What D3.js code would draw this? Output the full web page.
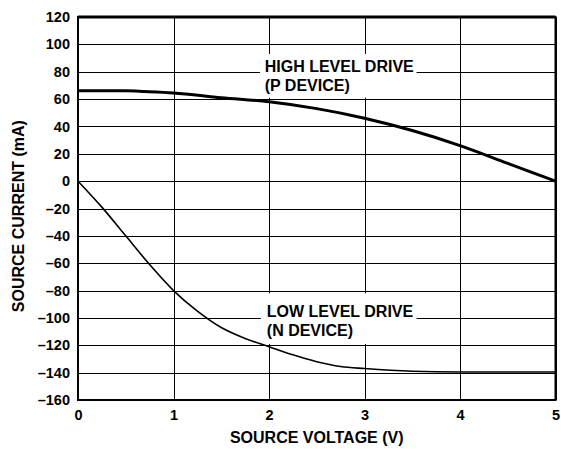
<!DOCTYPE html>
<html>
<head>
<meta charset="utf-8">
<script src="https://cdn.jsdelivr.net/npm/d3@7"></script>
<style>
  body { margin: 0; background: #fff; }
  text { font-family: "Liberation Sans", Arial, sans-serif; font-weight: bold; fill: #000; }
</style>
</head>
<body>
<div id="chart"></div>
<script>
//
// Source current vs source voltage
//

// Data
let xTicks = [0, 1, 2, 3, 4, 5];
let yTicks = [120, 100, 80, 60, 40, 20, 0, -20, -40, -60, -80, -100, -120, -140, -160];

let highV = [0, 0.5, 0.7, 1, 1.5, 2, 2.5, 3, 3.5, 4, 4.5, 5];
let highI = [66, 66, 65.5, 64.5, 61, 58, 53, 46, 37, 26, 13, 0];

let lowV = [0, 0.25, 0.5, 0.75, 1, 1.25, 1.5, 1.75, 2, 2.25, 2.5, 2.75, 3, 3.5, 4, 5];
let lowI = [0, -19, -40, -61, -80, -95, -107, -115, -121, -127, -132, -135.5, -137, -139, -139.5, -139.5];

let highLabel = ['HIGH LEVEL DRIVE', '(P DEVICE)'];
let lowLabel = ['LOW LEVEL DRIVE', '(N DEVICE)'];

let width = 561;
let height = 449;
let margin = { top: 17, right: 5, bottom: 49, left: 78 };

let svg = d3.select('#chart')
    .append('svg')
    .attr('width', width)
    .attr('height', height);

let x = d3.scaleLinear()
    .domain([0, 5])
    .range([margin.left, width - margin.right - 0.5]);

let y = d3.scaleLinear()
    .domain([-160, 120])
    .range([height - margin.bottom, margin.top]);

// Grid
let grid = svg.append('g').attr('stroke', '#000').attr('stroke-width', 1);

grid.selectAll('.hg')
    .data(yTicks)
    .enter()
    .append('line')
    .attr('x1', x(0))
    .attr('x2', x(5))
    .attr('y1', function(d) { return Math.round(y(d)) + 0.5; })
    .attr('y2', function(d) { return Math.round(y(d)) + 0.5; });

grid.selectAll('.vg')
    .data(xTicks)
    .enter()
    .append('line')
    .attr('x1', function(d) { return Math.round(x(d)) + 0.5; })
    .attr('x2', function(d) { return Math.round(x(d)) + 0.5; })
    .attr('y1', y(120))
    .attr('y2', y(-160));

// Label boxes hide the grid behind the text
function drawLabel(lines, vx, vy, box) {
    svg.append('rect')
        .attr('x', x(box[0]))
        .attr('y', y(box[1]))
        .attr('width', x(box[2]) - x(box[0]))
        .attr('height', y(box[3]) - y(box[1]))
        .attr('fill', '#fff');
    let t = svg.append('text')
        .attr('x', x(vx))
        .attr('y', y(vy))
        .style('font-size', '16px');
    lines.forEach(function(l, i) {
        t.append('tspan')
            .attr('x', x(vx))
            .attr('dy', i === 0 ? 0 : 18.5)
            .text(l);
    });
}

drawLabel(highLabel, 1.955, 79.7, [1.905, 93, 3.545, 61]);
drawLabel(lowLabel, 1.977, -99.4, [1.915, -82, 3.545, -119]);

// Curves
let line = d3.line()
    .x(function(d) { return x(d[0]); })
    .y(function(d) { return y(d[1]); })
    .curve(d3.curveMonotoneX);

svg.append('path')
    .datum(highV.map(function(v, i) { return [v, highI[i]]; }))
    .attr('d', line)
    .attr('fill', 'none')
    .attr('stroke', '#000')
    .attr('stroke-width', 3);

svg.append('path')
    .datum(lowV.map(function(v, i) { return [v, lowI[i]]; }))
    .attr('d', line)
    .attr('fill', 'none')
    .attr('stroke', '#000')
    .attr('stroke-width', 1.6);

// Frame
svg.append('rect')
    .attr('x', x(0))
    .attr('y', y(120))
    .attr('width', x(5) - x(0))
    .attr('height', y(-160) - y(120))
    .attr('fill', 'none')
    .attr('stroke', '#000')
    .attr('stroke-width', 2);

svg.append('line')
    .attr('x1', x(0))
    .attr('x2', x(5))
    .attr('y1', y(120))
    .attr('y2', y(120))
    .attr('stroke', '#000')
    .attr('stroke-width', 3);

// Axes (labels only, no tick marks)
let xAxis = d3.axisBottom(x)
    .tickValues(xTicks)
    .tickSize(0)
    .tickPadding(10)
    .tickFormat(d3.format('d'));

svg.append('g')
    .attr('transform', 'translate(0,' + y(-160) + ')')
    .call(xAxis)
    .call(function(g) { g.select('.domain').remove(); })
    .selectAll('text')
    .style('font-size', '14.5px')
    .style('font-family', '"Liberation Sans", Arial, sans-serif');

let yAxis = d3.axisLeft(y)
    .tickValues(yTicks)
    .tickSize(0)
    .tickPadding(8)
    .tickFormat(function(d) { return d < 0 ? '\u2013' + Math.abs(d) : d; });

svg.append('g')
    .attr('transform', 'translate(' + x(0) + ',0)')
    .call(yAxis)
    .call(function(g) { g.select('.domain').remove(); })
    .selectAll('text')
    .style('font-size', '14.5px')
    .style('font-family', '"Liberation Sans", Arial, sans-serif');

// Axis titles
svg.append('text')
    .attr('x', (x(0) + x(5)) / 2)
    .attr('y', 443)
    .attr('text-anchor', 'middle')
    .style('font-size', '16px')
    .text('SOURCE VOLTAGE (V)');

svg.append('text')
    .attr('transform', 'translate(24,' + (y(-25.6)) + ') rotate(-90)')
    .attr('text-anchor', 'middle')
    .style('font-size', '16px')
    .text('SOURCE CURRENT (mA)');
</script>
</body>
</html>
